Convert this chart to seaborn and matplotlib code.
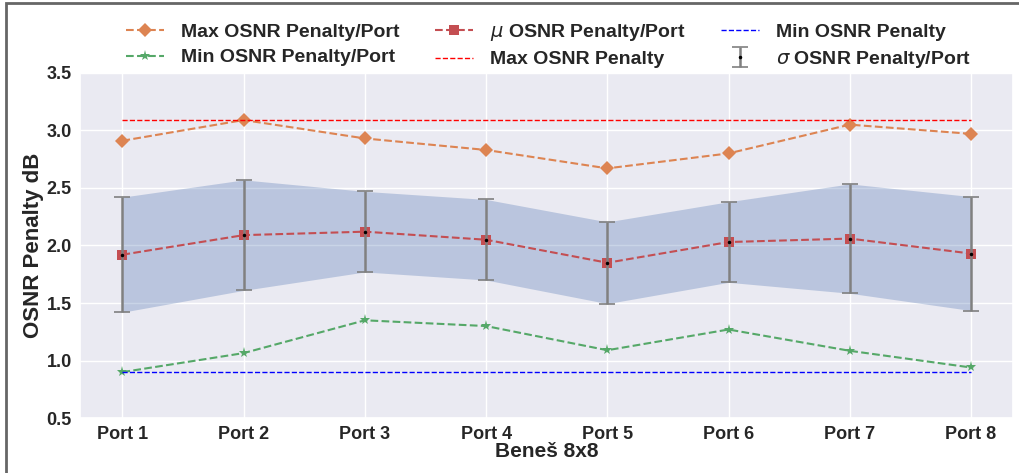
import numpy as np
import pandas as pd
import matplotlib
matplotlib.use("Agg")
import matplotlib.pyplot as plt
from matplotlib.patches import Rectangle
import seaborn as sns

ports = ["Port 1", "Port 2", "Port 3", "Port 4", "Port 5", "Port 6", "Port 7", "Port 8"]
max_per_port = [2.91, 3.09, 2.93, 2.83, 2.67, 2.80, 3.05, 2.97]
mean_per_port = [1.92, 2.09, 2.12, 2.05, 1.85, 2.03, 2.06, 1.93]
std_per_port = [0.50, 0.48, 0.35, 0.35, 0.355, 0.35, 0.475, 0.495]
min_per_port = [0.90, 1.065, 1.35, 1.30, 1.09, 1.27, 1.085, 0.94]
max_penalty = 3.09
min_penalty = 0.90

sns.set_theme(style="darkgrid")
plt.rcParams["font.family"] = ["Liberation Sans", "DejaVu Sans"]
plt.rcParams["mathtext.fontset"] = "dejavusans"

x = np.arange(len(ports))
df = pd.DataFrame({"x": x, "max": max_per_port, "mean": mean_per_port,
                   "std": std_per_port, "min": min_per_port})

fig = plt.figure(figsize=(10.19, 4.73), dpi=100)
ax = fig.add_axes([0.0785, 0.116, 0.916, 0.730])

c_orange = "#dd8452"
c_red = "#c44e52"
c_green = "#55a868"
c_blue = "#4c72b0"

sns.lineplot(data=df, x="x", y="max", ax=ax, color=c_orange, marker="D",
             markersize=7, markeredgewidth=0, linestyle="--", linewidth=1.5,
             label="Max OSNR Penalty/Port")
sns.lineplot(data=df, x="x", y="min", ax=ax, color=c_green, marker="*",
             markersize=8, markeredgewidth=0, linestyle="--", linewidth=1.5,
             label="Min OSNR Penalty/Port")
sns.lineplot(data=df, x="x", y="mean", ax=ax, color=c_red, marker="s",
             markersize=7.5, markeredgewidth=0, linestyle="--", linewidth=1.5,
             label=r"$\mu$ OSNR Penalty/Port")

ax.hlines(max_penalty, x[0], x[-1], colors="red", linestyles="--",
          linewidth=1.0, label="Max OSNR Penalty")
ax.hlines(min_penalty, x[0], x[-1], colors="blue", linestyles="--",
          linewidth=1.0, label="Min OSNR Penalty")

mean = df["mean"].to_numpy()
std = df["std"].to_numpy()
ax.fill_between(x, mean - std, mean + std, color=c_blue, alpha=0.3, linewidth=0)
ax.errorbar(x, mean, yerr=std, fmt=".", color="black", markersize=3,
            ecolor="gray", elinewidth=1.8, capsize=6, capthick=1.2,
            label=r"$\sigma$ OSNR Penalty/Port")

ax.set_ylim(0.5, 3.5)
ax.set_xlim(-0.35, 7.35)
ax.set_xticks(x)
ax.set_xticklabels(ports)
ax.set_yticks(np.arange(0.5, 3.51, 0.5))
ax.tick_params(axis="both", labelsize=13, pad=0)
for lbl in ax.get_xticklabels() + ax.get_yticklabels():
    lbl.set_fontweight("bold")
ax.set_xlabel("Beneš 8x8", fontsize=15, fontweight="bold", labelpad=-1)
ax.set_ylabel("OSNR Penalty dB", fontsize=16, fontweight="bold", labelpad=2)

handles, labels = ax.get_legend_handles_labels()
order = ["Max OSNR Penalty/Port", "Min OSNR Penalty/Port", r"$\mu$ OSNR Penalty/Port",
         "Max OSNR Penalty", "Min OSNR Penalty", r"$\sigma$ OSNR Penalty/Port"]
hmap = dict(zip(labels, handles))
leg = ax.legend([hmap[k] for k in order], order, loc="lower center",
                bbox_to_anchor=(0.502, 0.975), ncol=3, frameon=False,
                prop={"size": 14, "weight": "bold"}, columnspacing=1.8,
                handlelength=1.95, handletextpad=0.9, labelspacing=0.4,
                borderaxespad=0.2)

fig.patches.append(Rectangle((6 / 1019, -0.05), 1.2, 1 - 3 / 473 + 0.05,
                             transform=fig.transFigure, fill=False,
                             edgecolor="#666666", linewidth=2, zorder=10))

fig.savefig("out.png", dpi=100)
